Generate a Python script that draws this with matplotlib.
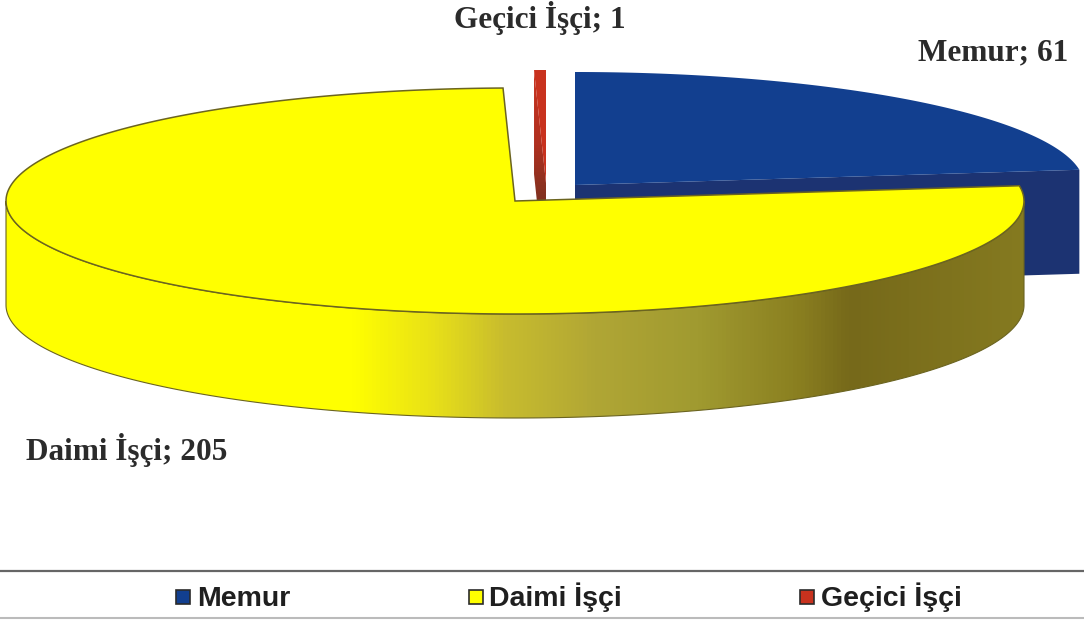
import numpy as np
import matplotlib
matplotlib.use('Agg')
import matplotlib.pyplot as plt
from matplotlib.colors import LinearSegmentedColormap
from matplotlib.patches import Polygon, Rectangle

names = ['Memur', 'Daimi İşçi', 'Geçici İşçi']
values = [61, 205, 1]

colors = ['#123f8f', '#ffff00', '#c8321e']
dark_colors = ['#1c3372', '#7a6d1a', '#74301f']
edge_colors = ['#123f8f', '#6b6420', '#8a2a18']

# pie geometry in pixels of the picture
rx, ry, depth = 509, 113, 104
centers = [(575, 185), (515, 201), (546, 183)]

label_pos = [(993, 60), (127, 460), (540, 28)]
legend_box = [(176, 590), (469, 590), (800, 590)]
legend_text = [(197, 606), (489, 606), (821, 606)]

# gradient along the front wall of the yellow slice, left to right
wall_stops = [(0, '#ffff00'), (0.34, '#ffff00'), (0.42, '#e8e018'), (0.49, '#c8bc2e'), (0.58, '#b0a635'),
              (0.68, '#a09a30'), (0.78, '#8a7f20'), (0.83, '#76691a'), (1, '#857a20')]
red_stops = ['#c8321e', '#b03020', '#74301f', '#74301f']

fractions = np.array(values) / sum(values)
stops = np.concatenate([[0], np.cumsum(fractions)]) * 2 * np.pi


def arc(c, t0, t1, dy=0):
    t = np.linspace(t0, t1, 300)
    return np.column_stack([c[0] + rx * np.sin(t), c[1] - ry * np.cos(t) + dy])


fig = plt.figure(figsize=(10.84, 6.21), dpi=100)
ax = fig.add_axes([0, 0, 1, 1])
ax.axis('off')

# Memur
c = centers[0]
edge = arc(c, stops[0], stops[1])
cut = np.array([c, edge[-1], edge[-1] + [0, depth], [c[0], c[1] + depth]])
ax.add_patch(Polygon(cut, fc=dark_colors[0], ec='none', zorder=1))
ax.add_patch(Polygon(np.vstack([[c], edge]), fc=colors[0], ec='none', zorder=2))

# Geçici İşçi
c = centers[2]
edge = arc(c, stops[2], stops[3])
cut = np.array([edge[0], c, [c[0], c[1] + depth], edge[0] + [0, depth]])
clip_red = Polygon(cut, fc='none', ec='none', zorder=2)
ax.add_patch(clip_red)
red_cmap = LinearSegmentedColormap.from_list('red_wall', red_stops)
im_red = ax.imshow(np.linspace(0, 1, 64)[:, None], cmap=red_cmap, aspect='auto', zorder=2,
                   extent=[c[0] - 20, c[0] + 20, c[1] + depth, c[1] - ry])
im_red.set_clip_path(clip_red)
ax.add_patch(Polygon(np.vstack([[c], edge]), fc=colors[2], ec='none', zorder=3))

# Daimi İşçi
c = centers[1]
top_arc = arc(c, np.pi / 2, 3 * np.pi / 2)
wall = np.vstack([top_arc, (top_arc + [0, depth])[::-1]])
clip = Polygon(wall, fc='none', ec=edge_colors[1], lw=0.8, zorder=5)
ax.add_patch(clip)
cmap = LinearSegmentedColormap.from_list('wall', wall_stops)
im = ax.imshow(np.linspace(0, 1, 256)[None, :], cmap=cmap, aspect='auto', zorder=4,
               extent=[c[0] - rx, c[0] + rx, c[1] + ry + depth, c[1]])
im.set_clip_path(clip)
edge = arc(c, stops[1], stops[2])
ax.add_patch(Polygon(np.vstack([[c], edge]), fc=colors[1], ec=edge_colors[1], lw=1.1, zorder=6))

ax.set_xlim(0, 1084)
ax.set_ylim(621, 0)

for name, val, (x, y) in zip(names, values, label_pos):
    ax.text(x, y, f'{name}; {val}', family='Liberation Serif', weight='bold', fontsize=22.5,
            color='#2b2b2b', ha='center', va='baseline', zorder=7)

# legend strip
ax.plot([0, 1084], [571, 571], color='#666666', lw=1.6, zorder=1)
ax.plot([0, 1084], [618, 618], color='#bbbbbb', lw=1.5, zorder=1)
for name, col, (bx, by), (tx, ty) in zip(names, colors, legend_box, legend_text):
    ax.add_patch(Rectangle((bx, by), 14, 14, fc=col, ec='#2b2b2b', lw=1.2, zorder=3))
    ax.text(tx, ty, name, family='Liberation Sans', weight='bold', fontsize=20.5,
            color='#1f1f1f', ha='left', va='baseline', zorder=3)

fig.savefig('out.png', dpi=100)
